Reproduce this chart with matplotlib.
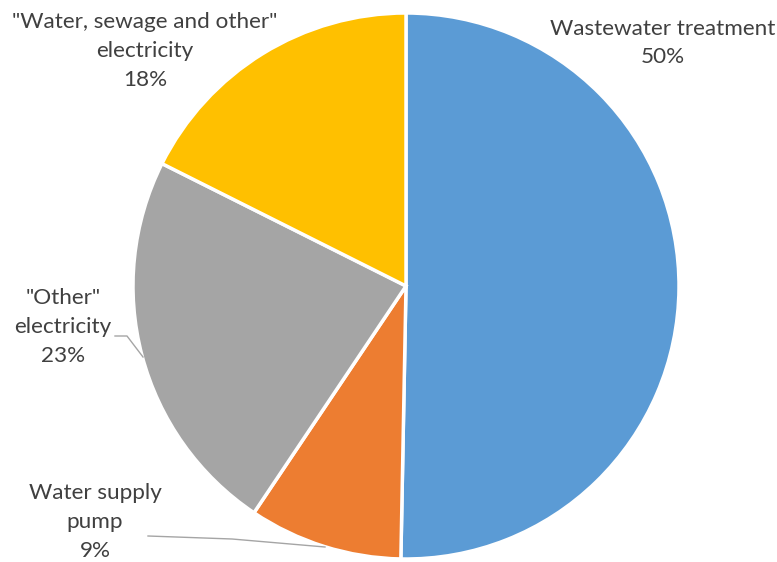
import matplotlib.pyplot as plt
from matplotlib.lines import Line2D

labels = ["Wastewater treatment", "Water supply\npump", "\"Other\"\nelectricity",
          "\"Water, sewage and other\"\nelectricity"]
values = [50.3, 9.1, 23.0, 17.6]
colors = ["#5B9BD5", "#ED7D31", "#A5A5A5", "#FFC000"]

W, H = 777, 562
fig = plt.figure(figsize=(W / 100, H / 100), dpi=100)

# pie centre and radius in pixels
cx, cy, r = 406, 286, 273
ax = fig.add_axes([(cx - r) / W, (H - cy - r) / H, 2 * r / W, 2 * r / H])
ax.pie(values, colors=colors, startangle=90, counterclock=False,
       wedgeprops=dict(edgecolor="white", linewidth=2.5))
ax.set_xlim(-1, 1)
ax.set_ylim(-1, 1)
ax.set_aspect("equal")
ax.axis("off")

# label centres in pixels
label_pos = [(663, 43), (95, 522), (63, 327), (145, 51)]
for lab, v, (px, py) in zip(labels, values, label_pos):
    fig.text(px / W, 1 - py / H, f"{lab}\n{round(v)}%", ha="center", va="center",
             fontsize=16.2, color="#404040", family="Lato", linespacing=1.55)

# leader lines
def leader(xs, ys):
    fig.add_artist(Line2D([x / W for x in xs], [1 - y / H for y in ys],
                          color="#A5A5A5", linewidth=1))

leader([115, 127, 143], [336, 336, 357])
leader([148, 232, 325], [536, 539, 547])

fig.savefig("out.png", dpi=100)
